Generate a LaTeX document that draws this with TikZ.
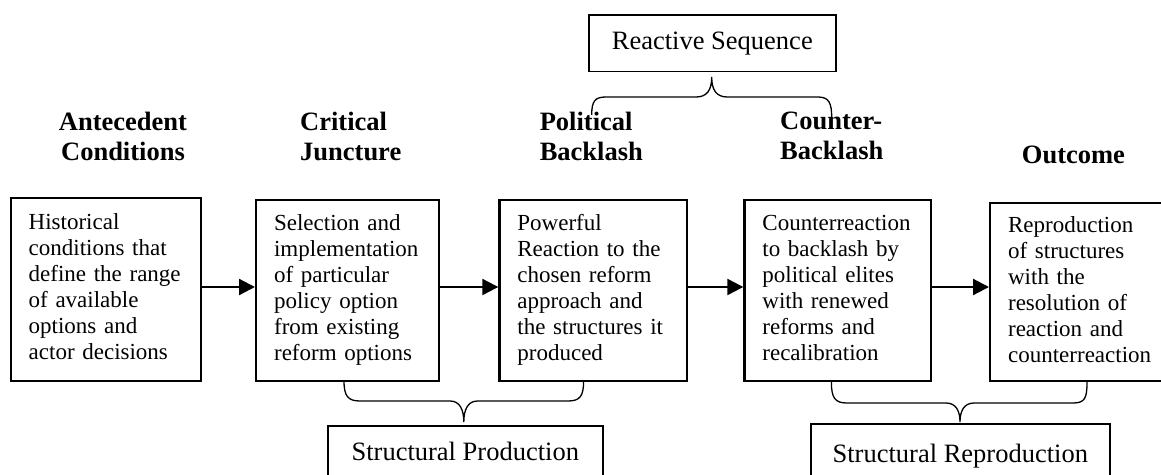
\documentclass[tikz,border=0pt]{standalone}
\usepackage{fontspec}
\setmainfont{Liberation Serif}
\usetikzlibrary{positioning,arrows.meta}
\hyphenpenalty=10000

\begin{document}
\begin{tikzpicture}[x=1pt,y=-1pt,
  stage/.style={draw,line width=2.2pt,anchor=north west,align=left,inner xsep=18pt,inner ysep=0pt,
    font=\fontsize{23}{26}\selectfont,execute at begin node={\strut},execute at end node={\strut}},
  head/.style={anchor=north west,align=left,inner sep=0pt,font=\bfseries\fontsize{26.5}{30}\selectfont,
    execute at begin node={\strut}},
  tag/.style={draw,line width=1.6pt,anchor=north west,inner sep=0pt,text height=18pt,text depth=6pt,
    font=\fontsize{26.5}{30}\selectfont},
  arr/.style={line width=2.2pt,-{Triangle[length=16pt,width=16pt]}},
  brc/.style={line width=1.3pt}]
  \useasboundingbox (0,0) rectangle (1161,474);
  % headings
  \node[head,anchor=north,align=center] (hAnte) at (123,112) {Antecedent\\Conditions};
  \node[head] (hCrit) at (300,112) {Critical\\Juncture};
  \node[head] (hPol) at (539.6,112) {Political\\Backlash};
  \node[head] (hCtr) at (780,112) {Counter-\\Backlash};
  \node[head,anchor=base west] (hOut) at (1021.7,163) {Outcome};
  % stage boxes
  \node[stage,text width=154.4pt,minimum height=183.5pt] (b1) at (9.6,196.5)
    {Historical\\conditions that\\define the range\\of available\\options and\\actor decisions};
  \node[stage,text width=147pt,minimum height=181pt] (b2) at (255,199)
    {Selection and\\implementation\\of particular\\policy option\\from existing\\reform options};
  \node[stage,text width=151.4pt,minimum height=181pt] (b3) at (498.3,199)
    {Powerful\\Reaction to the\\chosen reform\\approach and\\the structures it\\produced};
  \node[stage,text width=150.7pt,minimum height=181pt] (b4) at (743.3,199)
    {Counterreaction\\to backlash by\\political elites\\with renewed\\reforms and\\recalibration};
  \node[stage,text width=145pt,minimum height=178.3pt] (b5) at (989,201.7)
    {Reproduction\\of structures\\with the\\resolution of\\reaction and\\counterreaction};
  % arrows
  \draw[arr] (b1.east |- 0,287) -- (b2.west |- 0,287);
  \draw[arr] (b2.east |- 0,287) -- (b3.west |- 0,287);
  \draw[arr] (b3.east |- 0,287) -- (b4.west |- 0,287);
  \draw[arr] (b4.east |- 0,287) -- (b5.west |- 0,287);
  % sequence labels
  \node[tag,minimum width=247pt,minimum height=56.7pt] (seq) at (588,14) {Reactive Sequence};
  \node[tag,minimum width=275pt,minimum height=58pt] (prod) at (327,425) {Structural Production};
  \node[tag,minimum width=299pt,minimum height=65pt] (repr) at (810,423) {Structural Reproduction};
  % braces
  \draw[brc] (591.7,115) .. controls (591.7,101) and (595,97) .. (606,97) -- (696,97)
    .. controls (707,97) and (711.7,90) .. (711.7,77)
    .. controls (711.7,90) and (716.4,97) .. (727.4,97) -- (818,97)
    .. controls (829,97) and (831.7,103) .. (831.7,118);
  \draw[brc] (344,381) .. controls (344,396) and (348,401) .. (360,401) -- (450,401)
    .. controls (460,401) and (463.8,410) .. (463.8,422)
    .. controls (463.8,410) and (467.6,401) .. (477.6,401) -- (568,401)
    .. controls (580,401) and (583.6,396) .. (583.6,381);
  \draw[brc] (831.4,382) .. controls (831.4,398) and (835,403) .. (847,403) -- (946,403)
    .. controls (956,403) and (960,411) .. (960,422)
    .. controls (960,411) and (964,403) .. (974,403) -- (1073,403)
    .. controls (1085,403) and (1087,398) .. (1087,382);
\end{tikzpicture}
\end{document}
